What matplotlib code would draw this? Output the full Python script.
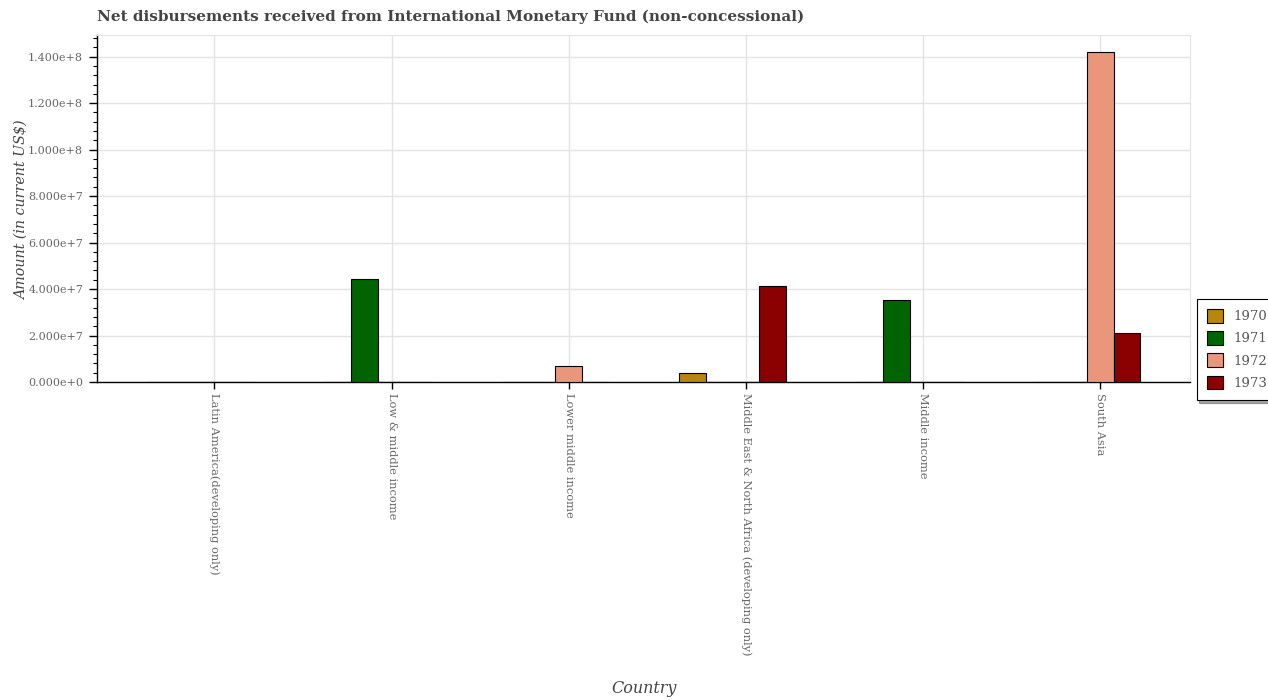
import matplotlib
matplotlib.use("Agg")
import matplotlib.pyplot as plt
import numpy as np
from matplotlib.ticker import FuncFormatter, MultipleLocator

categories = ["Latin America(developing only)", "Low & middle income", "Lower middle income",
              "Middle East & North Africa (developing only)", "Middle income", "South Asia"]
years = ["1970", "1971", "1972", "1973"]
v1970 = [0, 0, 0, 4.0e6, 0, 0]
v1971 = [0, 4.42e7, 0, 0, 3.53e7, 0]
v1972 = [0, 0, 6.8e6, 0, 0, 1.422e8]
v1973 = [0, 0, 0, 4.145e7, 0, 2.12e7]
series = [v1970, v1971, v1972, v1973]
colors = ["#B8860B", "#006400", "#E9967A", "#8B0000"]

plt.rcParams['font.family'] = ['DejaVu Serif']
fig = plt.figure(figsize=(12.68, 7.0), dpi=100)
ax = fig.add_axes([97/1268, 1-382/700, (1190-97)/1268, (382-35)/700])

x = np.arange(len(categories))
w = 0.151
handles = []
for i, (vals, c, yr) in enumerate(zip(series, colors, years)):
    b = ax.bar(x + (i - 2) * w, vals, width=w, align='center', color=c,
               edgecolor='black', linewidth=0.8, label=yr, zorder=3)
    handles.append(b)

ax.set_xlim(-0.663, 5.507)
ax.set_ylim(0, max(max(s) for s in series) * 1.05)
ax.set_xticks(x)
ax.set_xticklabels(categories, rotation=270, fontsize=8.2, color='#666666')
ax.yaxis.set_major_locator(MultipleLocator(2e7))
ax.yaxis.set_minor_locator(MultipleLocator(4e6))

def fmt(v, pos):
    if v == 0:
        return "0.000e+0"
    e = int(np.floor(np.log10(abs(v))))
    m = v / 10**e
    return f"{m:.3f}e+{e}"
ax.yaxis.set_major_formatter(FuncFormatter(fmt))
ax.tick_params(axis='y', labelsize=8, labelcolor='#666666', length=6, width=1, pad=4)
ax.tick_params(axis='y', which='minor', length=3, width=0.8)
ax.tick_params(axis='x', length=5, width=1, pad=3)

ax.grid(True, which='major', color='#e3e3e3', linewidth=1, zorder=0)
ax.set_axisbelow(True)
for s in ['top', 'right']:
    ax.spines[s].set_color('#e3e3e3')
for s in ['left', 'bottom']:
    ax.spines[s].set_color('black')
    ax.spines[s].set_linewidth(1)

ax.set_title("Net disbursements received from International Monetary Fund (non-concessional)",
             loc='left', fontsize=11, fontweight='bold', color='#444444', pad=10)
ax.set_xlabel("Country", fontsize=11.5, style='italic', color='#444444')
ax.xaxis.set_label_coords(644/1268, 1 - 680/700, transform=fig.transFigure)
ax.set_ylabel("Amount (in current US$)", fontsize=10.3, style='italic', color='#444444')
ax.yaxis.set_label_coords(29/1268, 1 - 210/700, transform=fig.transFigure)

leg = fig.legend(handles=handles, labels=years, loc='upper left',
                 bbox_to_anchor=(1190/1268, 1-292/700), fontsize=9.5,
                 frameon=True, fancybox=False, shadow=True, borderpad=0.8,
                 handlelength=1.2, handleheight=1.2, labelspacing=0.6)
leg.get_frame().set_edgecolor('black')
leg.get_frame().set_linewidth(0.8)
for t in leg.get_texts():
    t.set_color('#555555')

fig.savefig("out.png", dpi=100)
